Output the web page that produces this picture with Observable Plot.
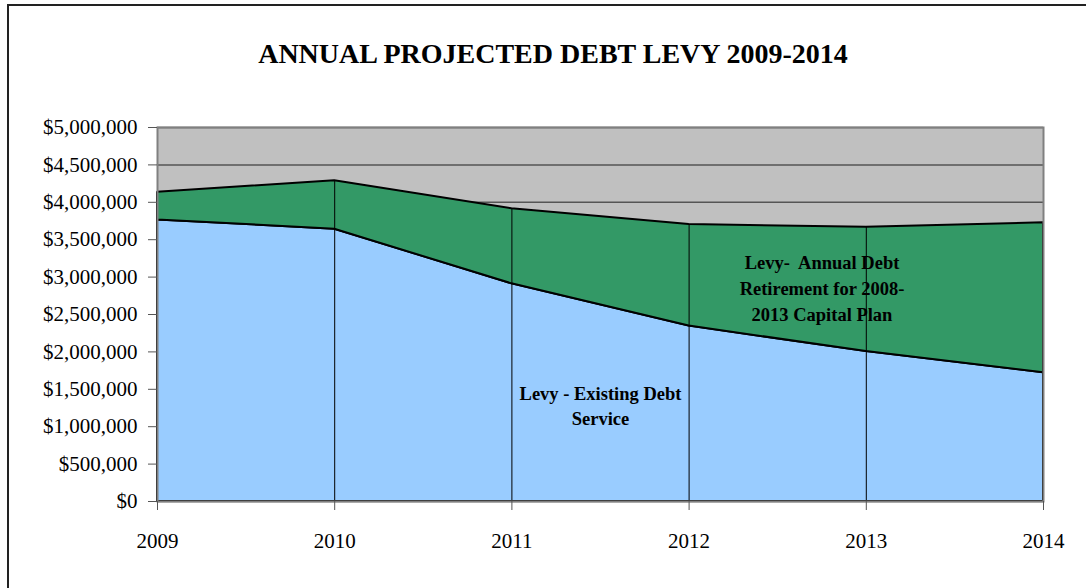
<!DOCTYPE html>
<html>
<head>
<meta charset="utf-8">
<script src="https://cdn.jsdelivr.net/npm/d3@7"></script>
<script src="https://cdn.jsdelivr.net/npm/@observablehq/plot@0.6"></script>
<style>
  html, body { margin: 0; padding: 0; background: #fff; }
  #wrap { position: relative; width: 1086px; height: 588px; overflow: hidden; }
  #box { position: absolute; left: 7px; top: 4px; width: 1200px; height: 700px;
         border-top: 2px solid #222; border-left: 2px solid #222; }
  #title { position: absolute; left: 53px; top: 40px; width: 1000px; text-align: center;
           font: bold 28px/28px "Liberation Serif", "Times New Roman", serif; color: #000; }
  #chart { position: absolute; left: 0; top: 0; }
</style>
</head>
<body>
<div id="wrap">
  <div id="box"></div>
  <div id="chart"></div>
  <div id="title">ANNUAL PROJECTED DEBT LEVY 2009-2014</div>
</div>
<script>
// Levy by year, in dollars
const years = [2009, 2010, 2011, 2012, 2013, 2014];
const existingDebtService = [3765000, 3640000, 2910000, 2345000, 2005000, 1720000];
const capitalPlanRetirement = [370000, 647000, 1003000, 1358000, 1662000, 2005000];
const seriesNames = ["Levy - Existing Debt Service", "Levy- Annual Debt Retirement for 2008-2013 Capital Plan"];
const yTicks = [0, 500000, 1000000, 1500000, 2000000, 2500000, 3000000, 3500000, 4000000, 4500000, 5000000];

// long-format table for stacking
const rows = [];
years.forEach((year, i) => {
  rows.push({year, series: seriesNames[0], value: existingDebtService[i]});
  rows.push({year, series: seriesNames[1], value: capitalPlanRetirement[i]});
});
const totals = years.map((year, i) => ({year, total: existingDebtService[i] + capitalPlanRetirement[i]}));

const chart = Plot.plot({
  width: 1086,
  height: 588,
  marginTop: 127,
  marginBottom: 87,
  marginLeft: 157,
  marginRight: 43,
  style: {fontFamily: "'Liberation Serif', 'Times New Roman', serif", fontSize: "21px", background: "transparent", color: "#000"},
  x: {type: "linear", domain: [2009, 2014], label: null},
  y: {domain: [0, 5000000], label: null},
  color: {domain: seriesNames, range: ["#99ccff", "#339966"]},
  marks: [
    Plot.frame({fill: "#c0c0c0"}),
    Plot.gridY(yTicks, {stroke: "#555", strokeOpacity: 1, strokeWidth: 1.5}),
    Plot.areaY(rows, Plot.stackY({
      x: "year", y: "value", z: "series", fill: "series",
      order: seriesNames,
      stroke: "#000", strokeWidth: 2, strokeLinejoin: "miter"
    })),
    Plot.ruleX(totals.slice(1, -1), {x: "year", y1: 0, y2: "total", stroke: "#000", strokeWidth: 1}),
    Plot.frame({stroke: "#808080", strokeWidth: 2}),
    Plot.axisY(yTicks, {
      label: null, tickSize: 9, tickPadding: 11, stroke: "#555", fill: "#000",
      tickFormat: d => "$" + d3.format(",")(d), fontSize: 21
    }),
    Plot.axisX(years, {
      label: null, tickSize: 9, tickPadding: 23, stroke: "#555", fill: "#000",
      tickFormat: d => String(d), fontSize: 21
    }),
    Plot.text(["Levy - Existing Debt\nService"], {
      x: () => 2011.5, y: () => 1300000,
      fontWeight: "bold", fontSize: 18.5, lineHeight: 1.4, fill: "#000"
    }),
    Plot.text(["Levy-  Annual Debt\nRetirement for 2008-\n2013 Capital Plan"], {
      x: () => 2012.75, y: () => 2876000,
      fontWeight: "bold", fontSize: 18.5, lineHeight: 1.4, fill: "#000"
    })
  ]
});
document.getElementById("chart").appendChild(chart);
</script>
</body>
</html>
